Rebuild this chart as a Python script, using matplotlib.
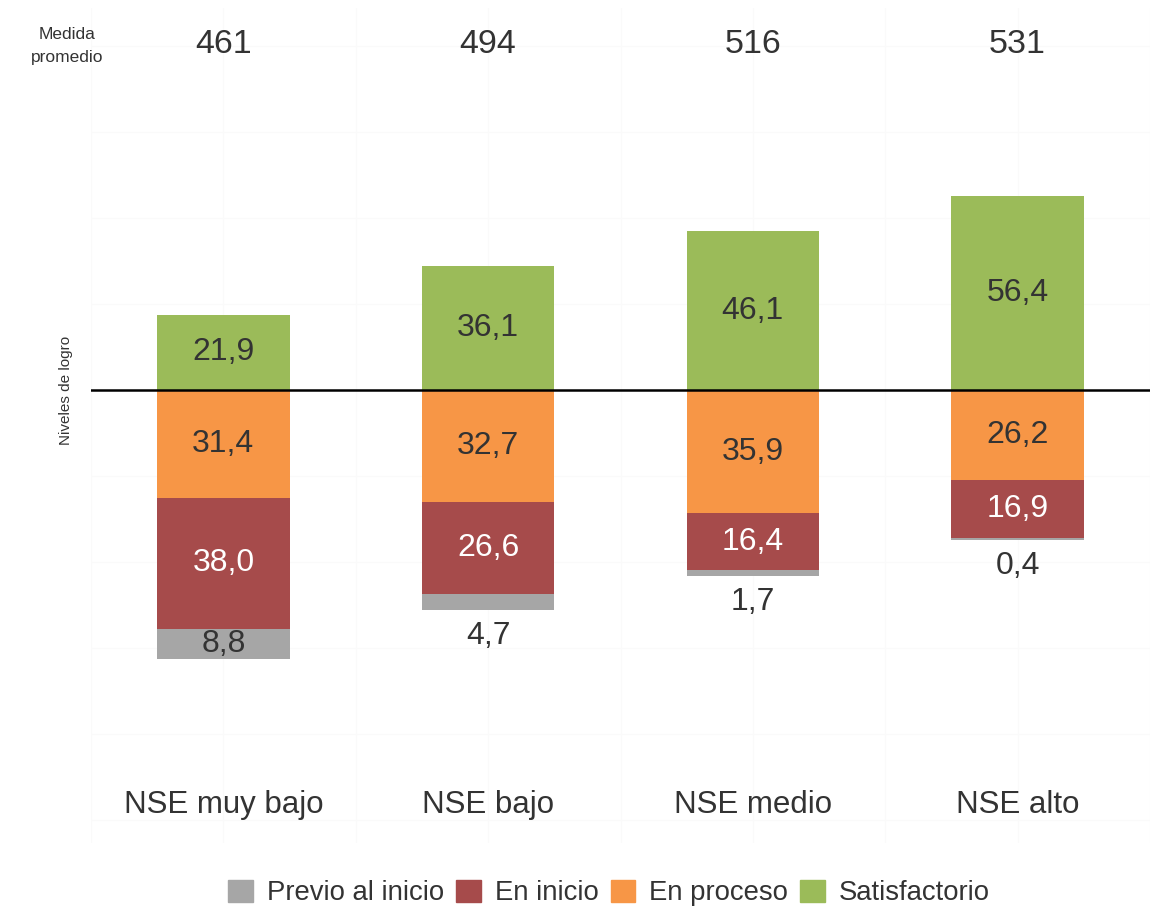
import matplotlib
matplotlib.use("Agg")
import matplotlib.pyplot as plt
from matplotlib.patches import Patch

plt.rcParams['font.family'] = ['Liberation Sans', 'DejaVu Sans']

categories = ["NSE muy bajo", "NSE bajo", "NSE medio", "NSE alto"]
medida_promedio = [461, 494, 516, 531]
satisfactorio = [21.9, 36.1, 46.1, 56.4]
en_proceso = [31.4, 32.7, 35.9, 26.2]
en_inicio = [38.0, 26.6, 16.4, 16.9]
previo = [8.8, 4.7, 1.7, 0.4]

legend_labels = ["Previo al inicio", "En inicio", "En proceso", "Satisfactorio"]
c_prev, c_ini, c_proc, c_sat = "#A6A6A6", "#A64B4B", "#F79646", "#9BBB59"
txt = "#333333"

fig = plt.figure(figsize=(11.73, 9.11), dpi=100)
ax = fig.add_axes([91/1173, 1-843/911, (1150-91)/1173, (843-8)/911])
x = list(range(len(categories)))
w = 0.5

ax.set_xlim(-0.5, 3.5)
ax.set_ylim(-131.7, 111)

# faint grid
for gx in [i * 0.5 - 0.5 for i in range(9)]:
    ax.axvline(gx, color="#FAFAFA", lw=1, zorder=0)
for gy in range(-125, 111, 25):
    ax.axhline(gy, color="#FAFAFA", lw=1, zorder=0)

ax.bar(x, satisfactorio, w, bottom=0, color=c_sat, zorder=2)
ax.bar(x, [-v for v in en_proceso], w, bottom=0, color=c_proc, zorder=2)
b2 = [-v for v in en_proceso]
ax.bar(x, [-v for v in en_inicio], w, bottom=b2, color=c_ini, zorder=2)
b3 = [-(a + b) for a, b in zip(en_proceso, en_inicio)]
ax.bar(x, [-v for v in previo], w, bottom=b3, color=c_prev, zorder=2)

def fmt(v):
    return f"{v:.1f}".replace(".", ",")

fs = 23
for i in x:
    ax.text(i, satisfactorio[i] / 2, fmt(satisfactorio[i]), ha="center", va="center",
            fontsize=fs, color=txt, zorder=3)
    ax.text(i, -en_proceso[i] / 2, fmt(en_proceso[i]), ha="center", va="center",
            fontsize=fs, color=txt, zorder=3)
    ax.text(i, b2[i] - en_inicio[i] / 2, fmt(en_inicio[i]), ha="center", va="center",
            fontsize=fs, color="white", zorder=3)
    bottom = b3[i] - previo[i]
    if previo[i] >= 5:
        ax.text(i, b3[i] - previo[i] / 2, fmt(previo[i]), ha="center", va="center",
                fontsize=fs, color=txt, zorder=3)
    else:
        ax.text(i, bottom - 7.6, fmt(previo[i]), ha="center", va="center",
                fontsize=fs, color=txt, zorder=3)
    ax.text(i, 100.3, str(medida_promedio[i]), ha="center", va="center",
            fontsize=24.5, color=txt, zorder=3)
    ax.text(i, -120.6, categories[i], ha="center", va="center",
            fontsize=22.5, color=txt, zorder=3)

ax.axhline(0, color="black", lw=1.8, zorder=4)

for s in ax.spines.values():
    s.set_visible(False)
ax.set_xticks([])
ax.set_yticks([])

fig.text(67/1173, 1-46/911, "Medida\npromedio", ha="center", va="center",
         fontsize=12.5, color=txt, linespacing=1.6)
fig.text(66/1173, 1-390/911, "Niveles de logro", ha="center", va="center",
         rotation=90, fontsize=11, color=txt)

handles = [Patch(color=c) for c in [c_prev, c_ini, c_proc, c_sat]]
fig.legend(handles, legend_labels, loc="center", bbox_to_anchor=(609/1173, 1-893/911),
           ncol=4, frameon=False, fontsize=19.8, handlelength=0.9, handleheight=0.9,
           handletextpad=0.5, columnspacing=0.45, labelcolor=txt)

fig.savefig("out.png", dpi=100, facecolor="white")
